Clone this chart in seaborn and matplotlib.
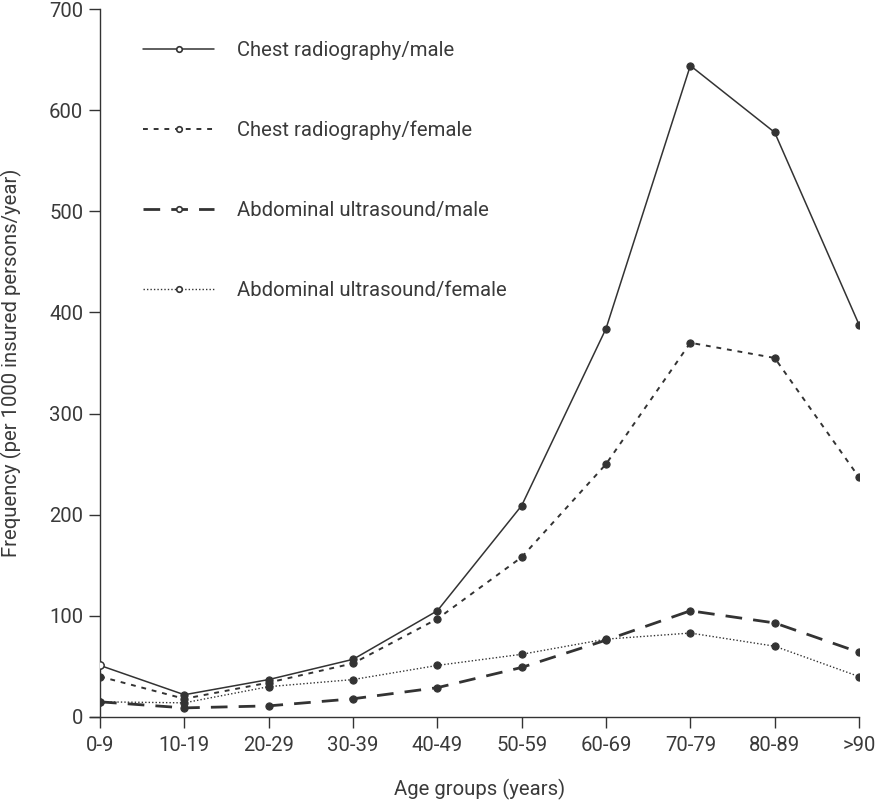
import matplotlib
matplotlib.use("Agg")
import matplotlib.pyplot as plt
import seaborn as sns
import pandas as pd
from matplotlib.lines import Line2D

age_groups = ["0-9", "10-19", "20-29", "30-39", "40-49", "50-59", "60-69", "70-79", "80-89", ">90"]
chest_male = [51, 22, 37, 57, 105, 209, 384, 644, 578, 388]
chest_female = [40, 18, 34, 53, 97, 158, 250, 370, 355, 237]
abd_male = [15, 9, 11, 18, 29, 49, 76, 105, 93, 64]
abd_female = [15, 14, 30, 37, 51, 62, 77, 83, 70, 40]
series_names = ["Chest radiography/male", "Chest radiography/female",
                "Abdominal ultrasound/male", "Abdominal ultrasound/female"]

sns.set_theme(style="ticks")
plt.rcParams['font.family'] = ['Roboto', 'DejaVu Sans']
plt.rcParams['font.weight'] = 'normal'
plt.rcParams['axes.labelweight'] = 'normal'
FS = 14.6
TXT = "#3a3a3a"

fig = plt.figure(figsize=(8.79, 8.02), dpi=100)
ax = fig.add_axes([100/879, 85/802, 759/879, 708/802])

col = "#333333"
styles = [
    dict(lw=1.1, ls="-"),
    dict(lw=1.4, ls=(0, (2.5, 3))),
    dict(lw=2.0, ls=(0, (6, 4))),
    dict(lw=1.0, ls=(0, (1, 1.5))),
]
all_vals = [chest_male, chest_female, abd_male, abd_female]
x = list(range(len(age_groups)))
for name, vals, st in zip(series_names, all_vals, styles):
    df = pd.DataFrame({"x": x, "y": vals})
    sns.lineplot(data=df, x="x", y="y", ax=ax, color=col, linewidth=st["lw"],
                 linestyle=st["ls"], marker="o", markersize=5.2,
                 markerfacecolor=col, markeredgecolor=col, legend=False)

# open circle at first chest male point
ax.plot([x[0]], [chest_male[0]], marker="o", markersize=5.2, markerfacecolor="white",
        markeredgecolor=col, markeredgewidth=1.0, linestyle="none", zorder=5)

ax.set_xlim(0, 9)
ax.set_ylim(0, 700)
ax.set_xticks(x)
ax.set_xticklabels(age_groups)
ax.set_yticks(range(0, 701, 100))
ax.tick_params(axis="both", direction="out", length=8, width=1, colors=col, labelsize=FS,
               labelcolor=TXT)
ax.tick_params(axis="x", pad=6)
ax.tick_params(axis="y", pad=4)
for s in ["top", "right"]:
    ax.spines[s].set_visible(False)
for s in ["left", "bottom"]:
    ax.spines[s].set_color(col)
    ax.spines[s].set_linewidth(1.0)
ax.spines["bottom"].set_bounds(-0.12, 9)
ax.set_xlabel("Age groups (years)", fontsize=FS, color=TXT, va="center")
ax.set_ylabel("Frequency (per 1000 insured persons/year)", fontsize=FS, color=TXT, va="center")
ax.xaxis.set_label_coords(0.5, -0.1017)
ax.yaxis.set_label_coords(-0.116, 0.5)

handles = [Line2D([0], [0], color=col, lw=st["lw"], ls=st["ls"], marker="o", markersize=4,
                  markerfacecolor="white", markeredgecolor=col, markeredgewidth=1.2)
           for st in styles]
leg = ax.legend(handles, series_names, loc="upper left", bbox_to_anchor=(0.033, 0.981),
                frameon=False, fontsize=FS, handlelength=3.5, handletextpad=1.12,
                labelspacing=3.0, markerfirst=True)
for t in leg.get_texts():
    t.set_color(TXT)

fig.savefig("out.png", dpi=100)
